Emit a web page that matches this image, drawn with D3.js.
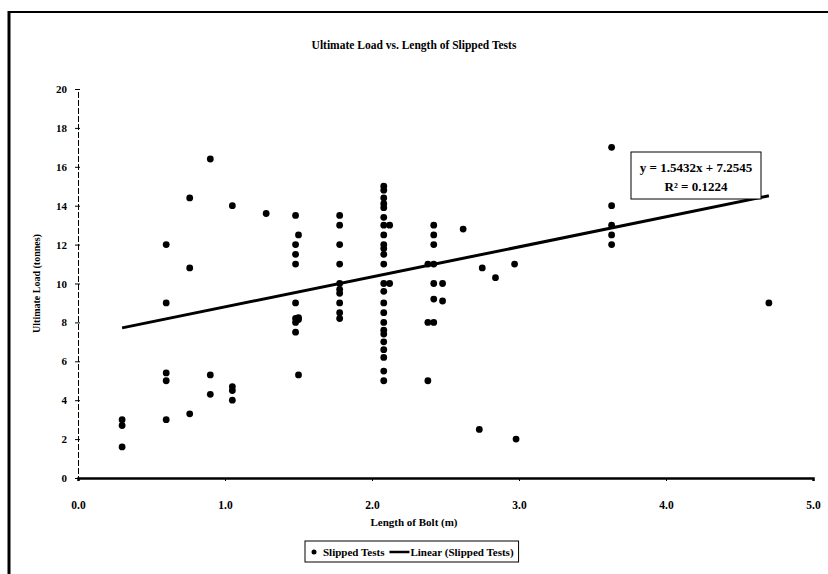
<!DOCTYPE html>
<html>
<head>
<meta charset="utf-8">
<script src="https://cdn.jsdelivr.net/npm/d3@7/dist/d3.min.js"></script>
<style>
  html, body { margin: 0; padding: 0; background: #fff; }
  svg { display: block; }
  text { font-family: "Liberation Serif", "Times New Roman", serif; font-weight: bold; fill: #000; }
</style>
</head>
<body>
<svg id="chart" width="828" height="574"></svg>
<script>
// ---- data ----
const lengths = [
  0.3, 0.3, 0.3,
  0.6, 0.6, 0.6, 0.6, 0.6,
  0.76, 0.76, 0.76,
  0.9, 0.9, 0.9,
  1.05, 1.05, 1.05, 1.05,
  1.28,
  1.48, 1.48, 1.48, 1.48, 1.48, 1.48, 1.48, 1.48,
  1.5, 1.5, 1.5, 1.5,
  1.78, 1.78, 1.78, 1.78, 1.78, 1.78, 1.78, 1.78, 1.78, 1.78,
  2.08, 2.08, 2.08, 2.08, 2.08, 2.08, 2.08, 2.08, 2.08, 2.08, 2.08, 2.08,
  2.08, 2.08, 2.08, 2.08, 2.08, 2.08, 2.08, 2.08, 2.08, 2.08, 2.08, 2.08,
  2.12, 2.12,
  2.38, 2.38, 2.38,
  2.42, 2.42, 2.42, 2.42, 2.42, 2.42, 2.42,
  2.48, 2.48,
  2.62,
  2.75, 2.73,
  2.84,
  2.97, 2.98,
  3.63, 3.63, 3.63, 3.63, 3.63,
  4.7
];
const loads = [
  3.0, 2.7, 1.6,
  12.0, 9.0, 5.4, 5.0, 3.0,
  14.4, 10.8, 3.3,
  16.4, 5.3, 4.3,
  14.0, 4.7, 4.5, 4.0,
  13.6,
  13.5, 12.0, 11.5, 11.0, 9.0, 8.2, 8.0, 7.5,
  12.5, 8.25, 8.15, 5.3,
  13.5, 13.0, 12.0, 11.0, 10.0, 9.7, 9.5, 9.0, 8.5, 8.2,
  15.0, 14.8, 14.4, 14.1, 13.9, 13.4, 13.0, 12.5, 12.0, 11.8, 11.5, 11.0,
  10.0, 9.6, 9.0, 8.5, 8.0, 7.6, 7.4, 7.0, 6.6, 6.2, 5.5, 5.0,
  13.0, 10.0,
  11.0, 8.0, 5.0,
  13.0, 12.5, 12.0, 11.0, 10.0, 9.2, 8.0,
  10.0, 9.1,
  12.8,
  10.8, 2.5,
  10.3,
  11.0, 2.0,
  17.0, 14.0, 13.0, 12.5, 12.0,
  9.0
];
const xTicks = [0, 1, 2, 3, 4, 5];
const xTickLabels = ["0.0", "1.0", "2.0", "3.0", "4.0", "5.0"];
const yTicks = [0, 2, 4, 6, 8, 10, 12, 14, 16, 18, 20];
const trendSlope = 1.5432;
const trendIntercept = 7.2545;
const trendRange = [0.3, 4.7];
const equationLines = ["y = 1.5432x + 7.2545", "R\u00B2 = 0.1224"];
const titleText = "Ultimate Load vs. Length of Slipped Tests";
const xTitle = "Length of Bolt (m)";
const yTitle = "Ultimate Load (tonnes)";
const legendItems = ["Slipped Tests", "Linear (Slipped Tests)"];

// ---- layout ----
const svg = d3.select("#chart");
const plot = { left: 78, right: 813, top: 89, bottom: 478 };

const x = d3.scaleLinear().domain([0, 5]).range([plot.left, plot.right]);
const y = d3.scaleLinear().domain([0, 20]).range([plot.bottom, plot.top]);

// chart frame
svg.append("line").attr("x1", 9).attr("x2", 9).attr("y1", 11).attr("y2", 574)
  .attr("stroke", "#000").attr("stroke-width", 3);
svg.append("line").attr("x1", 8).attr("x2", 828).attr("y1", 12).attr("y2", 12)
  .attr("stroke", "#000").attr("stroke-width", 2);

// title
svg.append("text").attr("x", 414).attr("y", 49).attr("text-anchor", "middle")
  .style("font-size", "11.5px").text(titleText);

// y axis
const yAxis = d3.axisLeft(y).tickValues(yTicks).tickSize(3).tickPadding(8).tickFormat(d3.format("d"));
const gy = svg.append("g").attr("transform", `translate(${plot.left},0)`).call(yAxis);
gy.select(".domain").attr("stroke", "#000").attr("stroke-width", 1).attr("stroke-dasharray", "6,2");
gy.selectAll(".tick line").attr("stroke", "#000").attr("x1", 2);
gy.selectAll(".tick text").style("font-size", "11px").style("font-family", "Liberation Serif").style("font-weight", "bold");

// x axis
const xAxis = d3.axisBottom(x).tickValues(xTicks).tickSize(3).tickPadding(20)
  .tickFormat((d, i) => xTickLabels[i]);
const gx = svg.append("g").attr("transform", `translate(0,${plot.bottom})`).call(xAxis);
gx.select(".domain").attr("stroke", "#000").attr("stroke-width", 2.5);
gx.selectAll(".tick line").attr("stroke", "#000");
gx.selectAll(".tick text").style("font-size", "11.5px").style("font-family", "Liberation Serif").style("font-weight", "bold");

// axis titles
svg.append("text").attr("x", 414).attr("y", 526).attr("text-anchor", "middle")
  .style("font-size", "11px").text(xTitle);
svg.append("text").attr("transform", `translate(40,${(plot.top + plot.bottom) / 2}) rotate(-90)`)
  .attr("text-anchor", "middle").style("font-size", "10px").text(yTitle);

// points
const pts = lengths.map((l, i) => ({ l, v: loads[i] }));
svg.append("g").selectAll("circle").data(pts).join("circle")
  .attr("cx", d => x(d.l)).attr("cy", d => y(d.v)).attr("r", 3.4).attr("fill", "#000");

// trend line
const trend = trendRange.map(t => ({ t, v: trendSlope * t + trendIntercept }));
svg.append("path").datum(trend)
  .attr("d", d3.line().x(d => x(d.t)).y(d => y(d.v)))
  .attr("stroke", "#000").attr("stroke-width", 3).attr("fill", "none");

// equation box
const eqBox = { x0: 631, y0: 152, x1: 761, y1: 199 };
svg.append("rect").attr("x", eqBox.x0).attr("y", eqBox.y0)
  .attr("width", eqBox.x1 - eqBox.x0).attr("height", eqBox.y1 - eqBox.y0)
  .attr("fill", "#fff").attr("stroke", "#000").attr("stroke-width", 1);
svg.append("text").attr("x", (eqBox.x0 + eqBox.x1) / 2).attr("y", 172).attr("text-anchor", "middle")
  .style("font-size", "13px").text(equationLines[0]);
svg.append("text").attr("x", (eqBox.x0 + eqBox.x1) / 2).attr("y", 191).attr("text-anchor", "middle")
  .style("font-size", "13px").text(equationLines[1]);

// legend
const lg = svg.append("g");
const lt1 = lg.append("text").attr("x", 323).attr("y", 556).style("font-size", "11px").text(legendItems[0]);
const w1 = lt1.node().getComputedTextLength();
lg.append("circle").attr("cx", 314).attr("cy", 552).attr("r", 2.5).attr("fill", "#000");
const lineX0 = 323 + w1 + 5;
lg.append("line").attr("x1", lineX0).attr("x2", lineX0 + 20).attr("y1", 552).attr("y2", 552)
  .attr("stroke", "#000").attr("stroke-width", 2.5);
const lt2 = lg.append("text").attr("x", lineX0 + 21).attr("y", 556).style("font-size", "11px").text(legendItems[1]);
const w2 = lt2.node().getComputedTextLength();
lg.insert("rect", ":first-child").attr("x", 305).attr("y", 541)
  .attr("width", lineX0 + 21 + w2 + 5 - 305).attr("height", 21)
  .attr("fill", "#fff").attr("stroke", "#000").attr("stroke-width", 1);
</script>
</body>
</html>
